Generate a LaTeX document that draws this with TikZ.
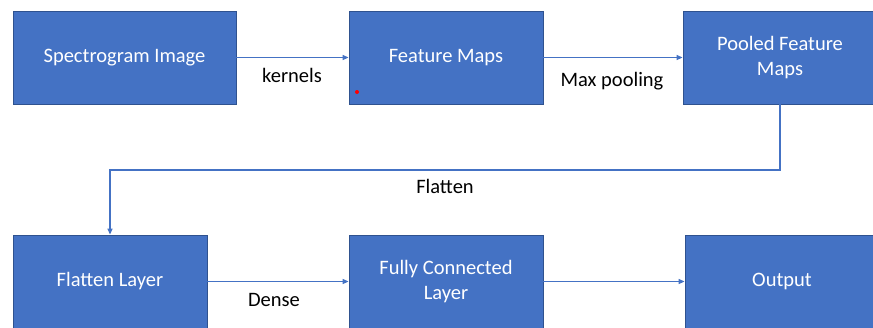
\documentclass[tikz,border=0pt]{standalone}
\usepackage{fontspec}
\setmainfont{Carlito}
\usetikzlibrary{arrows.meta}
\definecolor{boxfill}{HTML}{4472C4}
\definecolor{boxline}{HTML}{2F528F}
\definecolor{arrowcol}{HTML}{4472C4}
\tikzset{
  blk/.style={draw=boxline, line width=0.8pt, fill=boxfill, text=white, minimum width=194pt, minimum height=93pt, align=center, font=\fontsize{20.5}{24.5}\selectfont, inner sep=0pt},
  conn/.style={draw=arrowcol, line width=1.2pt, -{Triangle[length=6pt,width=5pt]}},
  lbl/.style={text=black, font=\fontsize{20.5}{24.5}\selectfont, inner sep=0pt}
}
\begin{document}
\begin{tikzpicture}[x=1pt,y=-1pt]
\useasboundingbox (0,0) rectangle (873,327);
\clip (0,0) rectangle (873,327);
\node[blk, minimum width=223pt] (spec) at (124.5,57.5) {Spectrogram Image};
\node[blk] (feat) at (446,57.5) {Feature Maps};
\node[blk] (pool) at (780,57.5) {Pooled Feature\\Maps};
\node[blk] (flat) at (110,281.5) {Flatten Layer};
\node[blk] (fc) at (446,281.5) {Fully Connected\\Layer};
\node[blk] (out) at (782,281.5) {Output};
\fill[red] (357,92) circle (2pt);
\coordinate (c1) at (780,170);
\coordinate (c2) at (110,170);
\draw[conn] (spec.east) -- (feat.west);
\draw[conn] (feat.east) -- (pool.west);
\draw[conn] (pool.south) -- (c1) -- (c2) -- (flat.north);
\draw[conn] (flat.east) -- (fc.west);
\draw[conn] (fc.east) -- (out.west);
\node[lbl] (lk) at (292,75) {kernels};
\node[lbl] (lm) at (612,81) {Max pooling};
\node[lbl] (lf) at (445,186) {Flatten};
\node[lbl] (ld) at (274,300) {Dense};
\end{tikzpicture}
\end{document}
